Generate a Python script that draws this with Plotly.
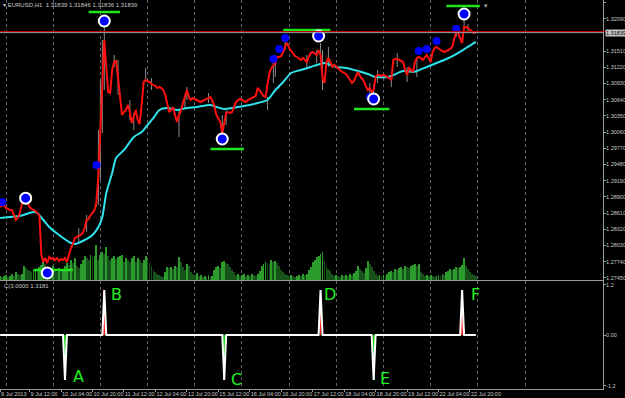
import plotly.graph_objects as go

# ---------------- data ----------------
bars = list(range(-3, 240))  # H1 bar index, 0 = 9 Jul 2013 00:00

close = [
    1.28718, 1.28736, 1.28754,
    1.28700, 1.28682, 1.28664, 1.28664, 1.28557, 1.28485, 1.28521, 1.28610, 1.28754, 1.28861,
    1.28861, 1.28789, 1.28718, 1.28682, 1.28664, 1.28646, 1.28610, 1.28557, 1.27859, 1.27733,
    1.27805, 1.27715, 1.27823, 1.27787, 1.27805, 1.27769, 1.27805, 1.27751, 1.27787, 1.27769,
    1.27805, 1.27733, 1.27859, 1.27984, 1.28055, 1.28163, 1.28181, 1.28199, 1.28217, 1.28252,
    1.28342, 1.28485, 1.28503, 1.28575, 1.28610, 1.28664, 1.28807, 1.29291, 1.30186, 1.31081,
    1.31707, 1.31224, 1.30776, 1.30758, 1.31170, 1.31313, 1.31331, 1.31027, 1.30633, 1.30365,
    1.30418, 1.30454, 1.30544, 1.30418, 1.30221, 1.30329, 1.30454, 1.30275, 1.30203, 1.30544,
    1.30955, 1.30991, 1.30973, 1.30955, 1.30919, 1.30902, 1.30884, 1.30848, 1.30866, 1.30848,
    1.30812, 1.30723, 1.30579, 1.30418, 1.30454, 1.30508, 1.30365, 1.30239, 1.30365, 1.30436,
    1.30579, 1.30687, 1.30812, 1.30687, 1.30633, 1.30669, 1.30651, 1.30633, 1.30615, 1.30597,
    1.30615, 1.30633, 1.30651, 1.30669, 1.30687, 1.30615, 1.30526, 1.30365, 1.30293, 1.30239,
    1.30042, 1.30239, 1.30400, 1.30418, 1.30400, 1.30418, 1.30508, 1.30597, 1.30633, 1.30651,
    1.30633, 1.30615, 1.30597, 1.30633, 1.30651, 1.30669, 1.30687, 1.30705, 1.30848, 1.30812,
    1.30758, 1.30705, 1.30687, 1.30902, 1.31116, 1.31206, 1.31242, 1.31295, 1.31403, 1.31403,
    1.31421, 1.31492, 1.31600, 1.31653, 1.31564, 1.31510, 1.31474, 1.31421, 1.31403, 1.31367,
    1.31349, 1.31385, 1.31349, 1.31313, 1.31403, 1.31474, 1.31492, 1.31456, 1.31439, 1.31528,
    1.31439, 1.31027, 1.30937, 1.31313, 1.31385, 1.31313, 1.31224, 1.31260, 1.31224, 1.31206,
    1.31170, 1.31134, 1.31116, 1.31098, 1.31045, 1.30991, 1.30937, 1.30973, 1.31063, 1.31134,
    1.31063, 1.31027, 1.30973, 1.30884, 1.30812, 1.30848, 1.30776, 1.30812, 1.31045, 1.31081,
    1.31081, 1.31063, 1.31081, 1.31063, 1.31045, 1.31027, 1.30991, 1.31349, 1.31367, 1.31367,
    1.31349, 1.31331, 1.31313, 1.31170, 1.31081, 1.31206, 1.31170, 1.31134, 1.31313, 1.31385,
    1.31403, 1.31385, 1.31349, 1.31403, 1.31439, 1.31385, 1.31313, 1.31492, 1.31564, 1.31582,
    1.31546, 1.31528, 1.31510, 1.31492, 1.31510, 1.31528, 1.31546, 1.31582, 1.31707, 1.31868,
    1.31832, 1.31743, 1.31653, 1.31940, 1.31940, 1.31922, 1.31886, 1.31850, 1.31832, 1.31839,
]

volume = [
    4, 3, 4,
    5, 3, 4, 6, 4, 8, 6, 5, 6, 14,
    12, 10, 9, 8, 10, 11, 10, 13, 15, 18,
    16, 12, 10, 9, 14, 10, 8, 12, 9, 10,
    14, 17, 15, 20, 17, 22, 14, 12, 16, 20,
    24, 22, 20, 25, 24, 24, 35, 20, 25, 28,
    26, 33, 24, 20, 22, 24, 21, 23, 24, 25,
    18, 22, 20, 18, 22, 24, 18, 22, 20, 17,
    20, 24, 20, 17, 14, 10, 8, 6, 5, 4,
    3, 8, 13, 12, 13, 11, 14, 13, 23, 18,
    13, 10, 16, 14, 8, 6, 5, 7, 4, 5,
    3, 4, 3, 5, 3, 4, 10, 13, 14, 12,
    18, 19, 17, 16, 13, 10, 8, 5, 6, 4,
    5, 6, 4, 5, 4, 6, 5, 4, 6, 9,
    14, 16, 18, 17, 16, 20, 18, 19, 17, 14,
    10, 8, 6, 5, 4, 5, 4, 3, 4, 5,
    4, 6, 5, 6, 10, 13, 18, 20, 23, 24,
    26, 28, 19, 14, 11, 9, 6, 4, 5, 4,
    3, 5, 4, 5, 4, 6, 5, 7, 9, 14,
    11, 9, 7, 12, 19, 16, 13, 9, 6, 4,
    5, 4, 5, 4, 6, 8, 9, 8, 11, 10,
    12, 13, 11, 14, 13, 12, 14, 15, 16, 14,
    16, 8, 6, 4, 5, 4, 5, 4, 3, 4,
    5, 4, 6, 5, 8, 9, 11, 10, 11, 13,
    12, 13, 15, 22, 14, 11, 8, 6, 5, 4,
]

ma_bars = [-3, 2, 7, 14, 16, 19, 22, 27, 33, 35, 39, 44, 47, 49, 51, 54, 56, 60, 65, 69,
           72, 75, 78, 82, 87, 92, 97, 104, 107, 111, 115, 121, 128, 133, 137, 141, 145, 150,
           155, 158, 162, 168, 173, 179, 184, 188, 194, 197, 202, 207, 209, 214, 219, 224, 229,
           234, 238, 239]
ma_vals = [1.28521, 1.28539, 1.28557, 1.28628, 1.28610, 1.28485, 1.28360, 1.28217, 1.28073,
           1.28055, 1.28109, 1.28217, 1.28360, 1.28539, 1.28968, 1.29326, 1.29595, 1.29738,
           1.29971, 1.30060, 1.30186, 1.30311, 1.30454, 1.30490, 1.30454, 1.30490, 1.30508,
           1.30544, 1.30508, 1.30472, 1.30490, 1.30526, 1.30579, 1.30633, 1.30812, 1.30955,
           1.31116, 1.31170, 1.31224, 1.31260, 1.31295, 1.31224, 1.31206, 1.31152, 1.31098,
           1.31045, 1.31045, 1.31081, 1.31152, 1.31134, 1.31152, 1.31224, 1.31295, 1.31367,
           1.31456, 1.31564, 1.31653, 1.31671]

wick_bars = [10, 37, 41, 46, 47, 48, 49, 50, 55, 57, 63, 65, 71, 74, 88, 91, 92, 103, 110, 112,
             133, 136, 137, 142, 153, 158, 160, 161, 164, 185, 187, 189, 196, 199, 204, 209,
             229, 233, 235]
wick_high = [1.28915, 1.28342, 1.28575, 1.28876, 1.30096, 1.30991, 1.31707, 1.31940, 1.31439,
             1.31349, 1.30633, 1.30400, 1.31206, 1.31027, 1.30454, 1.30723, 1.30866, 1.30758,
             1.30365, 1.30454, 1.30687, 1.31349, 1.31439, 1.31743, 1.31439, 1.31528, 1.31653,
             1.31528, 1.31582, 1.30937, 1.30902, 1.31170, 1.31045, 1.31474, 1.31224, 1.31403,
             1.31976, 1.32083, 1.31993]
wick_low = [1.28754, 1.28073, 1.28270, 1.28718, 1.28754, 1.29201, 1.30042, 1.30812, 1.31224,
            1.30723, 1.30275, 1.30096, 1.30955, 1.30812, 1.29971, 1.30490, 1.30633, 1.30579,
            1.29989, 1.30186, 1.30454, 1.30937, 1.31045, 1.31528, 1.31224, 1.31295, 1.31403,
            1.30812, 1.31224, 1.30687, 1.30687, 1.30937, 1.30866, 1.31224, 1.30955, 1.31045,
            1.31761, 1.31886, 1.31832]

big_fractal_bars = [10, 21, 50, 110, 159, 187, 233]
big_fractal_prices = [1.28876, 1.27536, 1.32047, 1.29935, 1.31779, 1.30651, 1.32172]
small_fractal_bars = [-2, 46, 136, 139, 142, 185, 210, 214, 219, 229]
small_fractal_prices = [1.28807, 1.29470, 1.31367, 1.31546, 1.31743, 1.30687, 1.31510,
                        1.31546, 1.31689, 1.31904]

hand_start = [42, 14, 104, 141, 177, 224]
hand_end = [58, 34, 121, 165, 195, 241]
hand_price = [1.32208, 1.27590, 1.29756, 1.31886, 1.30472, 1.32316]

signal_bars = [30, 50, 111, 160, 187, 232]
signal_vals = [-1, 1, -1, 1, -1, 1]
letter_text = ["A", "B", "C", "D", "E", "F"]
letter_bars = [37, 56, 117, 165, 193, 239]
letter_vals = [-0.93, 0.89, -1.0, 0.89, -0.96, 0.89]

price_ticks = [1.32375, 1.32090, 1.31510, 1.31220, 1.30930, 1.30640, 1.30350, 1.30060,
               1.29770, 1.29480, 1.29190, 1.28900, 1.28610, 1.28320, 1.28030, 1.27740, 1.27450]
sub_tick_text = ["-1.2", "0.00", "1.2"]
sub_tick_pos = [-1.13, 0.0, 1.12]   # where the pane prints its labels (just inside the edges)
time_tick_bars = [-3, 12, 28, 44, 60, 76, 92, 108, 124, 140, 156, 172, 188, 204, 220, 236]
time_tick_text = ["9 Jul 2013", "9 Jul 12:00", "10 Jul 04:00", "10 Jul 20:00", "11 Jul 12:00",
                  "12 Jul 04:00", "12 Jul 20:00", "15 Jul 12:00", "16 Jul 04:00", "16 Jul 20:00",
                  "17 Jul 12:00", "18 Jul 04:00", "18 Jul 20:00", "19 Jul 12:00",
                  "22 Jul 04:00", "22 Jul 20:00"]
day_bars = [0, 24, 48, 72, 96, 120, 144, 168, 192, 216, 240, 264]

bid = 1.31839
ask = 1.31859
header = "EURUSD,H1  1.31839 1.31846 1.31836 1.31839"
sub_label = "C(3.0000 1.3181"

# ---------------- figure ----------------
FONT = "Liberation Sans, Arial, sans-serif"
GRID = "#5d6670"
TXT = "#c8c8c8"
AX = "#9a9a9a"

fig = go.Figure()

# volumes on the base axis (drawn underneath the price overlay)
vol_colors = ["#2c9a2c" if k == 0 or volume[k] >= volume[k - 1] else "#17521a"
              for k in range(len(volume))]
fig.add_trace(go.Bar(x=bars, y=volume, width=0.45, marker_color=vol_colors,
                     marker_line_width=0, xaxis="x", yaxis="y"))

wx, wy = [], []
for b, h, l in zip(wick_bars, wick_high, wick_low):
    wx += [b, b, None]
    wy += [l, h, None]
fig.add_trace(go.Scatter(x=wx, y=wy, mode="lines", line=dict(color="#8a8a8a", width=1),
                         xaxis="x", yaxis="y3"))

fig.add_trace(go.Scatter(x=ma_bars, y=ma_vals, mode="lines",
                         line=dict(color="#2ee3ec", width=2, shape="spline", smoothing=0.6),
                         xaxis="x", yaxis="y3"))
fig.add_trace(go.Scatter(x=bars, y=close, mode="lines", line=dict(color="#ff1010", width=2),
                         xaxis="x", yaxis="y3"))

hx, hy = [], []
for s, e, p in zip(hand_start, hand_end, hand_price):
    hx += [s, e, None]
    hy += [p, p, None]
fig.add_trace(go.Scatter(x=hx, y=hy, mode="lines", line=dict(color="#1ee61e", width=2.5),
                         xaxis="x", yaxis="y3"))

fig.add_trace(go.Scatter(x=small_fractal_bars, y=small_fractal_prices, mode="markers",
                         marker=dict(size=8, color="#0000ff", line=dict(width=0)),
                         xaxis="x", yaxis="y3"))
fig.add_trace(go.Scatter(x=big_fractal_bars, y=big_fractal_prices, mode="markers",
                         marker=dict(size=11, color="#0000ff", line=dict(width=2, color="white")),
                         xaxis="x", yaxis="y3"))

# lower pane
ind = [0] * len(bars)
for b, v in zip(signal_bars, signal_vals):
    ind[bars.index(b)] = v
fig.add_trace(go.Scatter(x=bars, y=ind, mode="lines", line=dict(color="white", width=2),
                         xaxis="x2", yaxis="y2"))
fig.add_trace(go.Bar(x=signal_bars, y=signal_vals, width=0.45,
                     marker_color=["#ff2020" if v > 0 else "#10d010" for v in signal_vals],
                     marker_line_width=0, xaxis="x2", yaxis="y2"))

for t, b, v in zip(letter_text, letter_bars, letter_vals):
    fig.add_annotation(x=b, y=v, xref="x2", yref="y2", text=t, showarrow=False,
                       font=dict(family="DejaVu Sans", size=16, color="#22ee22"))

H = 389.0
main_dom = [(H - 280) / H, 1.0]
sub_dom = [0.0, (H - 281) / H]
xr = [-3.05, 303.66]
tick_font = dict(size=5.5, color=TXT, family=FONT)

fig.update_layout(
    width=625, height=398,
    margin=dict(l=0, r=22, t=0, b=9),
    paper_bgcolor="black", plot_bgcolor="black",
    showlegend=False, bargap=0,
    font=dict(family=FONT, size=6, color=TXT),
    xaxis=dict(range=xr, anchor="y", domain=[0, 1], showticklabels=False, ticks="",
               showgrid=False, zeroline=False, showline=True, linecolor=AX,
               linewidth=1, minor=dict(tickvals=day_bars, showgrid=True, gridcolor=GRID,
                                       griddash="dot", gridwidth=1, ticks="")),
    xaxis2=dict(range=xr, anchor="y2", matches="x", domain=[0, 1],
                tickmode="array", tickvals=time_tick_bars, ticktext=time_tick_text,
                ticklabelposition="outside right", tickangle=0, ticks="outside",
                ticklen=2, tickcolor=AX, tickfont=tick_font, ticklabelstandoff=-1,
                showgrid=False, zeroline=False, showline=True, linecolor=AX,
                linewidth=1, automargin=False,
                minor=dict(tickvals=day_bars, showgrid=True, gridcolor=GRID,
                           griddash="dot", gridwidth=1, ticks="")),
    yaxis=dict(domain=main_dom, range=[0, 280], visible=False, anchor="x", fixedrange=True),
    yaxis3=dict(overlaying="y", range=[1.27411, 1.32423], side="right", anchor="x",
                tickmode="array", tickvals=price_ticks,
                ticktext=["%.5f" % p for p in price_ticks], ticks="outside", ticklen=2,
                tickcolor=AX, tickfont=tick_font, ticklabelstandoff=-1, showgrid=False,
                zeroline=False, showline=True, linecolor=AX, linewidth=1,
                automargin=False),
    yaxis2=dict(domain=sub_dom, range=[-1.2, 1.2], side="right", anchor="x2",
                tickmode="array", tickvals=sub_tick_pos, ticktext=sub_tick_text,
                ticks="outside", ticklen=2, tickcolor=AX, ticklabelstandoff=-1,
                tickfont=tick_font, showgrid=False, zeroline=False,
                showline=True, linecolor=AX, linewidth=1, automargin=False),
)

# bid / ask lines
fig.add_shape(type="line", xref="paper", yref="y3", x0=0, x1=1.036, y0=ask, y1=ask,
              line=dict(color="#c00000", width=1))
fig.add_shape(type="line", xref="paper", yref="y3", x0=0, x1=1, y0=bid, y1=bid,
              line=dict(color="#a0a0a0", width=1))
fig.add_annotation(x=1.003, y=bid, xref="paper", yref="y3", xanchor="left", yanchor="middle",
                   text="%.5f" % bid, showarrow=False, bgcolor="#c4c4c4", borderpad=0,
                   font=dict(size=5.5, color="black", family=FONT))

# header and labels
fig.add_annotation(x=0.002, y=1.0, xref="paper", yref="paper", xanchor="left", yanchor="top",
                   text="\u25be " + header, showarrow=False,
                   font=dict(size=6, color=TXT, family=FONT))
fig.add_annotation(x=0.004, y=sub_dom[1], xref="paper", yref="paper", xanchor="left",
                   yanchor="top", text=sub_label, showarrow=False,
                   font=dict(size=6, color=TXT, family=FONT))
fig.add_annotation(x=0.806, y=1.0, xref="paper", yref="paper", xanchor="center",
                   yanchor="top", text="\u25be", showarrow=False,
                   font=dict(size=7, color="#a0a0a0", family=FONT))

fig.write_html("out.html", config={"displayModeBar": False})
